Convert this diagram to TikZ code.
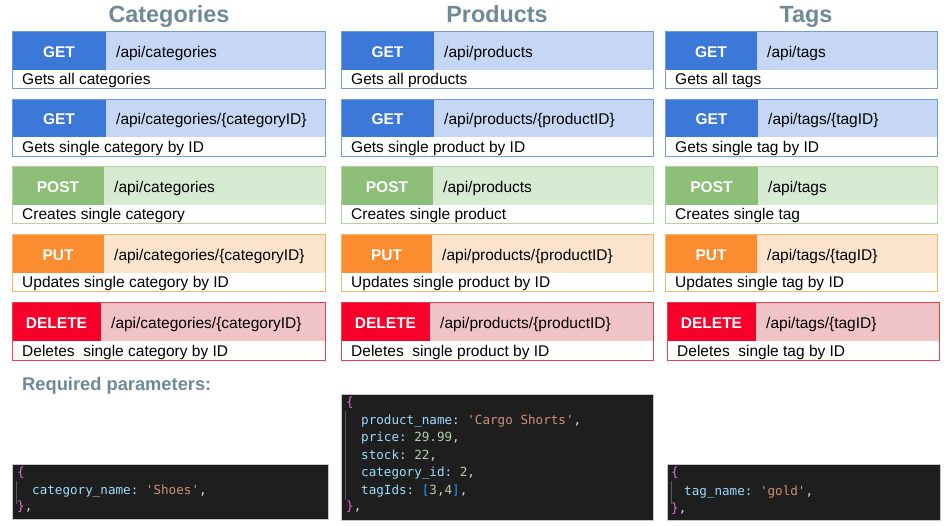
\documentclass[tikz,border=0pt]{standalone}
\usepackage{fontspec}
\setmainfont{Liberation Sans}
\setmonofont{DejaVu Sans Mono}
\usetikzlibrary{positioning}
\definecolor{getdark}{HTML}{3C78D8}
\definecolor{getlight}{HTML}{C6D7F5}
\definecolor{getline}{HTML}{6D9EEB}
\definecolor{postdark}{HTML}{8EBF78}
\definecolor{postlight}{HTML}{D7EAD2}
\definecolor{postline}{HTML}{B0D59F}
\definecolor{putdark}{HTML}{FB8C30}
\definecolor{putlight}{HTML}{FBE3CC}
\definecolor{putline}{HTML}{F8B66A}
\definecolor{deldark}{HTML}{F7002A}
\definecolor{dellight}{HTML}{F0C3C6}
\definecolor{delline}{HTML}{E8404E}
\definecolor{headgrey}{HTML}{6E8A98}
\definecolor{codebg}{HTML}{1E1E1E}
\definecolor{codekey}{HTML}{9CDCFE}
\definecolor{codestr}{HTML}{CE9178}
\definecolor{codenum}{HTML}{B5CEA8}
\definecolor{codebrace}{HTML}{DA70D6}
\definecolor{codebrack}{HTML}{179FFF}
\definecolor{codepunc}{HTML}{D4D4D4}
\tikzset{
	method/.style = {anchor=base, inner sep=0pt, text=white, font=\bfseries\fontsize{15.5}{18}\selectfont},
	route/.style = {anchor=base west, inner sep=0pt, font=\fontsize{15.5}{18}\selectfont},
	desc/.style = {anchor=base west, inner sep=0pt, font=\fontsize{15.5}{18}\selectfont},
	heading/.style = {anchor=base, inner sep=0pt, text=headgrey, font=\bfseries\fontsize{23.4}{26}\selectfont},
	codetxt/.style = {anchor=mid west, inner sep=0pt, text=codepunc, font=\ttfamily\fontsize{12.6}{15}\selectfont}
}
% #1 name, #2 colour, #3 method width, #4 box width, #5 method, #6 route, #7 text
\newcommand{\apibox}[7]{\fill[#2light] (0,0) rectangle (#4,38);
					\fill[#2dark] (0,0) rectangle (#3,38);
					\draw[#2line, line width=1pt] (0,0) rectangle (#4,57);
					\node[method] (#1-m) at (#3/2,25.5) {#5};
					\node[route] (#1-r) at (#3+10,25.5) {#6};
					\node[desc] (#1-d) at (10,53) {#7};}
% #1 width, #2 height, #3 guide end
\newcommand{\codebox}[3]{\fill[codebg] (0,0) rectangle (#1,#2);
					\draw[gray!45, line width=0.8pt] (0,0) rectangle (#1,#2);
					\draw[black!65, line width=0.6pt] (4.5,17) -- (4.5,#3);}
\newcommand{\kw}[1]{\textcolor{codekey}{#1}}
\newcommand{\str}[1]{\textcolor{codestr}{#1}}
\newcommand{\num}[1]{\textcolor{codenum}{#1}}

\begin{document}
\begin{tikzpicture}[x=1pt, y=-1pt]
					\useasboundingbox (0,0) rectangle (944,526);

					\node[heading] (cat-title) at (169,23) {Categories};
					\node[heading] (prod-title) at (497,23) {Products};
					\node[heading] (tag-title) at (806,23) {Tags};

					% categories
					\begin{scope}[shift={(12,32)}]
						\apibox{cat-a}{get}{94}{313}{GET}{/api/categories}{Gets all categories}
					\end{scope}

					\begin{scope}[shift={(12,99.5)}]
						\apibox{cat-b}{get}{94}{313}{GET}{/api/categories/\{categoryID\}}{Gets single category by ID}
					\end{scope}

					\begin{scope}[shift={(12,167)}]
						\apibox{cat-c}{post}{92}{313}{POST}{/api/categories}{Creates single category}
					\end{scope}

					\begin{scope}[shift={(12,235)}]
						\apibox{cat-d}{put}{92}{313}{PUT}{/api/categories/\{categoryID\}}{Updates single category by ID}
					\end{scope}

					\begin{scope}[shift={(12,303)}]
						\apibox{cat-e}{del}{89}{313}{DELETE}{/api/categories/\{categoryID\}}{Deletes\ \ single category by ID}
					\end{scope}

					% products
					\begin{scope}[shift={(341,32)}]
						\apibox{prod-a}{get}{93}{312}{GET}{/api/products}{Gets all products}
					\end{scope}

					\begin{scope}[shift={(341,99.5)}]
						\apibox{prod-b}{get}{93}{312}{GET}{/api/products/\{productID\}}{Gets single product by ID}
					\end{scope}

					\begin{scope}[shift={(341,167)}]
						\apibox{prod-c}{post}{92}{312}{POST}{/api/products}{Creates single product}
					\end{scope}

					\begin{scope}[shift={(341,235)}]
						\apibox{prod-d}{put}{91}{312}{PUT}{/api/products/\{productID\}}{Updates single product by ID}
					\end{scope}

					\begin{scope}[shift={(341,303)}]
						\apibox{prod-e}{del}{89}{312}{DELETE}{/api/products/\{productID\}}{Deletes\ \ single product by ID}
					\end{scope}

					% tags
					\begin{scope}[shift={(665,32)}]
						\apibox{tag-a}{get}{92}{272}{GET}{/api/tags}{Gets all tags}
					\end{scope}

					\begin{scope}[shift={(665,99.5)}]
						\apibox{tag-b}{get}{93}{272}{GET}{/api/tags/\{tagID\}}{Gets single tag by ID}
					\end{scope}

					\begin{scope}[shift={(665,167)}]
						\apibox{tag-c}{post}{93}{272}{POST}{/api/tags}{Creates single tag}
					\end{scope}

					\begin{scope}[shift={(665,235)}]
						\apibox{tag-d}{put}{92}{272}{PUT}{/api/tags/\{tagID\}}{Updates single tag by ID}
					\end{scope}

					\begin{scope}[shift={(667,303)}]
						\apibox{tag-e}{del}{89}{272}{DELETE}{/api/tags/\{tagID\}}{Deletes\ \ single tag by ID}
					\end{scope}

					\node[anchor=base west, inner sep=0pt, text=headgrey, font=\bfseries\fontsize{18.3}{21}\selectfont] (req) at (22,390.5) {Required parameters:};

					% request bodies
					\begin{scope}[shift={(12,464)}]
						\codebox{316}{55}{40}
						\node[codetxt] (cat-l1) at (5,10) {\textcolor{codebrace}{\{}};
						\node[codetxt] (cat-l2) at (20,27.5) {\kw{category\_name:} \str{'Shoes'},};
						\node[codetxt] (cat-l3) at (5,44) {\textcolor{codebrace}{\}},};
					\end{scope}

					\begin{scope}[shift={(341,394)}]
						\codebox{312}{126}{106}
						\node[codetxt] (prod-l1) at (5,10) {\textcolor{codebrace}{\{}};
						\node[codetxt] (prod-l2) at (20,27.5) {\kw{product\_name:} \str{'Cargo Shorts'},};
						\node[codetxt] (prod-l3) at (20,45) {\kw{price:} \num{29.99},};
						\node[codetxt] (prod-l4) at (20,62.5) {\kw{stock:} \num{22},};
						\node[codetxt] (prod-l5) at (20,80) {\kw{category\_id:} \num{2},};
						\node[codetxt] (prod-l6) at (20,97.5) {\kw{tagIds:} \textcolor{codebrack}{[}\num{3},\num{4}\textcolor{codebrack}{]},};
						\node[codetxt] (prod-l7) at (5,114) {\textcolor{codebrace}{\}},};
					\end{scope}

					\begin{scope}[shift={(667,464)}]
						\codebox{273}{56}{40}
						\node[codetxt] (tag-l1) at (4,10) {\textcolor{codebrace}{\{}};
						\node[codetxt] (tag-l2) at (17,28.5) {\kw{tag\_name:} \str{'gold'},};
						\node[codetxt] (tag-l3) at (4,46) {\textcolor{codebrace}{\}},};
					\end{scope}

				\end{tikzpicture}
\end{document}
